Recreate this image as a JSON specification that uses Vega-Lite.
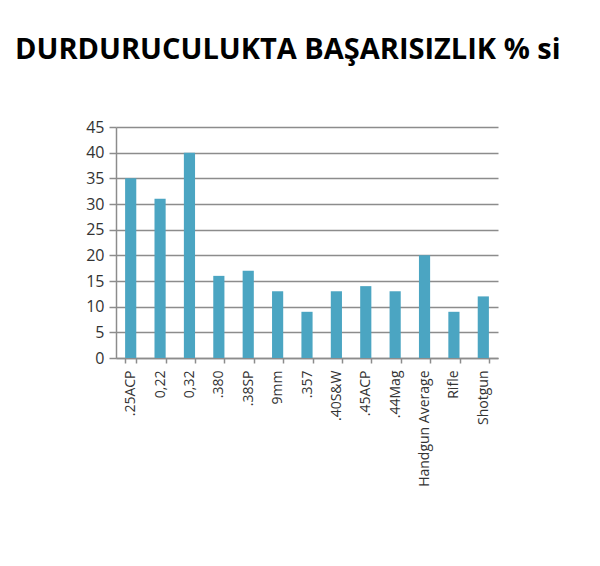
{
  "$schema": "https://vega.github.io/schema/vega-lite/v6.json",
  "width": 382,
  "height": 231,
  "autosize": {"type": "none"},
  "padding": {"left": 116, "top": 127, "right": 102, "bottom": 208},
  "background": "white",
  "title": {
    "text": "DURDURUCULUKTA BAŞARISIZLIK % si",
    "font": "Open Sans",
    "fontSize": 29,
    "fontWeight": "bold",
    "color": "#000000",
    "anchor": "start",
    "frame": "group",
    "dx": -101,
    "offset": 54
  },
  "config": {
    "view": {"stroke": null},
    "axis": {
      "labelFont": "Open Sans",
      "labelColor": "#333333",
      "domainColor": "#8c8c8c",
      "tickColor": "#8c8c8c",
      "gridColor": "#8c8c8c",
      "domainWidth": 1.5,
      "tickWidth": 1.5,
      "gridWidth": 1.5,
      "title": null
    }
  },
  "data": {
    "values": [
      {"caliber": ".25ACP", "pct": 35},
      {"caliber": "0,22", "pct": 31},
      {"caliber": "0,32", "pct": 40},
      {"caliber": ".380", "pct": 16},
      {"caliber": ".38SP", "pct": 17},
      {"caliber": "9mm", "pct": 13},
      {"caliber": ".357", "pct": 9},
      {"caliber": ".40S&W", "pct": 13},
      {"caliber": ".45ACP", "pct": 14},
      {"caliber": ".44Mag", "pct": 13},
      {"caliber": "Handgun Average", "pct": 20},
      {"caliber": "Rifle", "pct": 9},
      {"caliber": "Shotgun", "pct": 12}
    ]
  },
  "mark": {"type": "bar", "color": "#4ba5c2"},
  "encoding": {
    "x": {
      "field": "caliber",
      "type": "nominal",
      "sort": null,
      "scale": {"paddingInner": 0.62, "paddingOuter": 0.31},
      "axis": {
        "labelAngle": -90,
        "labelFontSize": 14,
        "labelPadding": 7,
        "tickBand": "extent",
        "tickSize": 5,
        "grid": false
      }
    },
    "y": {
      "field": "pct",
      "type": "quantitative",
      "scale": {"domain": [0, 45], "nice": false},
      "axis": {
        "values": [0, 5, 10, 15, 20, 25, 30, 35, 40, 45],
        "labelFontSize": 16,
        "tickSize": 7,
        "labelPadding": 5,
        "grid": true
      }
    }
  }
}
